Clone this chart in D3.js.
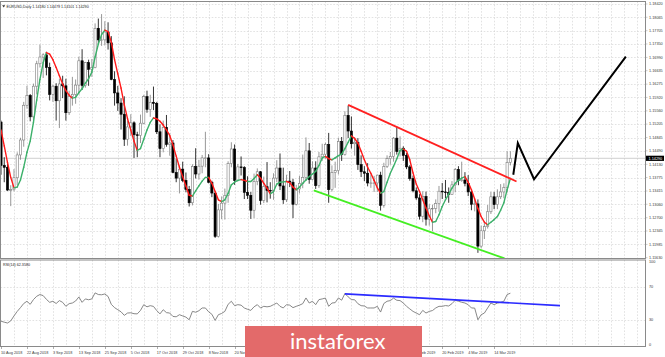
<!DOCTYPE html>
<html><head><meta charset="utf-8">
<script src="https://cdn.jsdelivr.net/npm/d3@7/dist/d3.min.js"></script>
<style>body{margin:0;background:#fff}svg{display:block;font-family:"Liberation Sans",Arial,sans-serif}</style>
</head><body><svg id="c" width="665" height="357"></svg>
<script>
// ---------- DATA ----------
const symbol = "EURUSD,Daily";
// daily candles [open, high, low, close], 10 Aug 2018 .. 21 Mar 2019
const candles = [
[1.1526,1.1530,1.1385,1.1410],[1.1410,1.1432,1.1365,1.1405],[1.1405,1.1422,1.1342,1.1344],[1.1344,1.1357,1.1301,1.1345],[1.1345,1.1400,1.1341,1.1377],
[1.1377,1.1445,1.1357,1.1438],[1.1438,1.1484,1.1425,1.1478],[1.1478,1.1580,1.1460,1.1571],[1.1571,1.1623,1.1562,1.1597],[1.1597,1.1601,1.1528,1.1540],
[1.1540,1.1629,1.1530,1.1622],[1.1622,1.1690,1.1600,1.1682],[1.1682,1.1733,1.1672,1.1700],[1.1700,1.1710,1.1644,1.1706],[1.1706,1.1714,1.1651,1.1672],
[1.1672,1.1685,1.1584,1.1600],[1.1600,1.1625,1.1580,1.1622],[1.1622,1.1630,1.1530,1.1583],[1.1583,1.1642,1.1510,1.1628],[1.1628,1.1650,1.1590,1.1623],
[1.1623,1.1642,1.1530,1.1551],[1.1551,1.1610,1.1545,1.1595],[1.1595,1.1647,1.1570,1.1600],[1.1600,1.1640,1.1575,1.1625],[1.1625,1.1701,1.1600,1.1690],
[1.1690,1.1721,1.1612,1.1624],[1.1624,1.1687,1.1618,1.1685],[1.1685,1.1693,1.1623,1.1667],[1.1667,1.1695,1.1647,1.1672],[1.1672,1.1790,1.1670,1.1777],
[1.1777,1.1803,1.1735,1.1746],[1.1746,1.1815,1.1730,1.1746],[1.1746,1.1796,1.1731,1.1767],[1.1767,1.1793,1.1720,1.1738],[1.1738,1.1756,1.1638,1.1640],
[1.1640,1.1662,1.1570,1.1604],[1.1604,1.1623,1.1556,1.1577],[1.1577,1.1590,1.1506,1.1547],[1.1547,1.1595,1.1462,1.1480],[1.1480,1.1530,1.1463,1.1513],
[1.1513,1.1547,1.1489,1.1524],[1.1524,1.1528,1.1430,1.1492],[1.1492,1.1500,1.1432,1.1490],[1.1490,1.1546,1.1470,1.1523],[1.1523,1.1599,1.1520,1.1594],
[1.1594,1.1610,1.1551,1.1560],[1.1560,1.1599,1.1540,1.1579],[1.1579,1.1621,1.1558,1.1576],[1.1576,1.1580,1.1494,1.1500],[1.1500,1.1520,1.1432,1.1455],
[1.1455,1.1530,1.1445,1.1512],[1.1512,1.1545,1.1460,1.1466],[1.1466,1.1496,1.1436,1.1470],[1.1470,1.1478,1.1389,1.1391],[1.1391,1.1428,1.1365,1.1376],
[1.1376,1.1410,1.1335,1.1400],[1.1400,1.1420,1.1365,1.1370],[1.1370,1.1391,1.1338,1.1346],[1.1346,1.1355,1.1300,1.1310],[1.1310,1.1413,1.1303,1.1407],
[1.1407,1.1456,1.1375,1.1387],[1.1387,1.1425,1.1372,1.1408],[1.1408,1.1438,1.1389,1.1430],[1.1430,1.1500,1.1405,1.1430],[1.1430,1.1440,1.1362,1.1365],
[1.1365,1.1369,1.1325,1.1336],[1.1336,1.1337,1.1216,1.1220],[1.1220,1.1307,1.1217,1.1291],[1.1291,1.1327,1.1266,1.1309],[1.1309,1.1348,1.1265,1.1330],
[1.1330,1.1421,1.1310,1.1415],[1.1415,1.1472,1.1405,1.1454],[1.1454,1.1466,1.1358,1.1370],[1.1370,1.1414,1.1367,1.1406],[1.1406,1.1434,1.1383,1.1404],
[1.1404,1.1408,1.1320,1.1338],[1.1338,1.1381,1.1320,1.1330],[1.1330,1.1339,1.1267,1.1290],[1.1290,1.1388,1.1269,1.1367],[1.1367,1.1402,1.1357,1.1393],
[1.1393,1.1395,1.1305,1.1316],[1.1316,1.1380,1.1309,1.1353],[1.1353,1.1419,1.1311,1.1343],[1.1343,1.1365,1.1321,1.1342],[1.1342,1.1389,1.1318,1.1376],
[1.1376,1.1424,1.1365,1.1403],[1.1403,1.1442,1.1344,1.1355],[1.1355,1.1404,1.1307,1.1318],[1.1318,1.1385,1.1312,1.1368],[1.1368,1.1395,1.1352,1.1365],
[1.1365,1.1374,1.1269,1.1306],[1.1306,1.1358,1.1303,1.1347],[1.1347,1.1382,1.1335,1.1362],[1.1362,1.1439,1.1349,1.1378],[1.1378,1.1485,1.1369,1.1449],
[1.1449,1.1470,1.1361,1.1372],[1.1372,1.1421,1.1370,1.1403],[1.1403,1.1421,1.1347,1.1356],[1.1356,1.1446,1.1350,1.1433],[1.1433,1.1468,1.1422,1.1440],
[1.1440,1.1471,1.1428,1.1466],[1.1466,1.1497,1.1310,1.1345],[1.1345,1.1410,1.1340,1.1391],[1.1391,1.1420,1.1350,1.1396],[1.1396,1.1484,1.1386,1.1474],
[1.1474,1.1486,1.1422,1.1439],[1.1439,1.1555,1.1436,1.1544],[1.1544,1.1570,1.1483,1.1502],[1.1502,1.1541,1.1455,1.1468],[1.1468,1.1486,1.1436,1.1472],
[1.1472,1.1483,1.1398,1.1412],[1.1412,1.1437,1.1379,1.1393],[1.1393,1.1408,1.1368,1.1389],[1.1389,1.1416,1.1354,1.1363],[1.1363,1.1386,1.1350,1.1363],
[1.1363,1.1382,1.1339,1.1363],[1.1363,1.1385,1.1339,1.1384],[1.1384,1.1393,1.1289,1.1303],[1.1303,1.1417,1.1297,1.1407],[1.1407,1.1437,1.1403,1.1428],
[1.1428,1.1446,1.1412,1.1434],[1.1434,1.1486,1.1420,1.1483],[1.1483,1.1514,1.1439,1.1447],[1.1447,1.1488,1.1434,1.1456],[1.1456,1.1461,1.1422,1.1437],
[1.1437,1.1443,1.1400,1.1406],[1.1406,1.1411,1.1369,1.1375],[1.1375,1.1383,1.1338,1.1342],[1.1342,1.1351,1.1318,1.1323],[1.1323,1.1333,1.1265,1.1274],
[1.1274,1.1341,1.1258,1.1327],[1.1327,1.1340,1.1249,1.1266],[1.1266,1.1306,1.1249,1.1294],[1.1294,1.1305,1.1234,1.1295],[1.1295,1.1319,1.1282,1.1308],
[1.1308,1.1355,1.1286,1.1341],[1.1341,1.1363,1.1320,1.1339],[1.1339,1.1371,1.1322,1.1337],[1.1337,1.1351,1.1310,1.1332],[1.1332,1.1368,1.1331,1.1358],
[1.1358,1.1403,1.1338,1.1399],[1.1399,1.1408,1.1357,1.1370],[1.1370,1.1420,1.1366,1.1371],[1.1371,1.1392,1.1354,1.1362],[1.1362,1.1384,1.1328,1.1339],
[1.1339,1.1343,1.1290,1.1306],[1.1306,1.1319,1.1287,1.1307],[1.1307,1.1319,1.1176,1.1194],[1.1194,1.1249,1.1189,1.1235],[1.1235,1.1256,1.1213,1.1246],
[1.1246,1.1304,1.1241,1.1286],[1.1286,1.1339,1.1280,1.1326],[1.1326,1.1339,1.1293,1.1305],[1.1305,1.1346,1.1293,1.1326],[1.1326,1.1360,1.1320,1.1339],
[1.1339,1.1362,1.1322,1.1351],[1.1351,1.1448,1.1337,1.1418],[1.1418,1.14479,1.14101,1.1429]
];
// colour-changing moving average
const maValues = [
1.1505,1.1462,1.1418,1.1378,1.1350,1.1352,1.1371,1.1405,1.1445,1.1475,
1.1525,1.1585,1.1640,1.1685,1.1712,1.1708,1.1693,1.1672,1.1650,1.1628,
1.1610,1.1598,1.1590,1.1592,1.1605,1.1615,1.1630,1.1642,1.1660,1.1700,
1.1735,1.1760,1.1772,1.1768,1.1740,1.1693,1.1655,1.1617,1.1572,1.1535,
1.1505,1.1475,1.1450,1.1455,1.1480,1.1505,1.1525,1.1537,1.1535,1.1528,
1.1518,1.1505,1.1490,1.1465,1.1435,1.1405,1.1380,1.1355,1.1330,1.1328,
1.1342,1.1355,1.1368,1.1378,1.1378,1.1362,1.1340,1.1318,1.1313,1.1318,
1.1335,1.1358,1.1365,1.1370,1.1372,1.1370,1.1367,1.1367,1.1375,1.1385,
1.1376,1.1362,1.1349,1.1334,1.1340,1.1360,1.1365,1.1366,1.1367,1.1364,
1.1352,1.1345,1.1352,1.1362,1.1371,1.1380,1.1387,1.1394,1.1410,1.1430,
1.1434,1.1428,1.1425,1.1430,1.1436,1.1440,1.1455,1.1472,1.1489,1.1482,
1.1470,1.1448,1.1425,1.1405,1.1389,1.1370,1.1350,1.1336,1.1340,1.1365,
1.1389,1.1408,1.1428,1.1450,1.1454,1.1448,1.1425,1.1390,1.1360,1.1340,
1.1318,1.1296,1.1275,1.1258,1.1260,1.1278,1.1300,1.1318,1.1333,1.1349,
1.1362,1.1370,1.1376,1.1380,1.1365,1.1345,1.1320,1.1295,1.1273,1.1258,
1.1251,1.1258,1.1265,1.1273,1.1290,1.1310,1.1345,1.1375
];
// RSI(14)
const rsiValues = [
28.7,27.5,26.5,29,35,40.5,45,50,52.7,49,
54.7,58.7,60.8,59.5,55,51.4,52.7,50,53.5,51.4,
46.6,49.8,50.6,53,57.9,51.4,55.5,54.5,55.5,62.8,
60.8,60.5,61.5,58.5,49,45,42.5,40,35.7,38.5,
38.8,37.7,37.5,41.7,48.6,46,47.4,46.5,41.5,37.5,
42.5,39,38.5,34.4,34,36.5,35,33.6,30.4,40.5,
39.5,41.3,44.6,44.6,40,37,29.6,36.5,38,40.5,
49,52.7,47.4,48.6,48,44.6,43,41.7,46,48.6,
44.6,46.6,46,46.6,48.6,50.6,46.6,44.6,48.6,48,
45,46.6,48,49.8,56.7,50.6,52.7,48.6,54.7,55.5,
56.5,46.6,50.6,51,56.7,54,62,58,54.7,54.5,
49.8,47.4,47,44.6,44.6,44.6,46.6,39.7,50,52.7,
53.5,56.5,53.9,53.5,50.6,46.6,43.5,40.5,38.5,36.5,
41.7,38.5,40.5,41.5,44.6,46.6,46.6,47.5,47,49.8,
53.9,52.7,51.5,50.6,48.6,44.6,44.5,30.4,36.5,38.5,
44.6,50.6,48.6,50.5,51.4,52.7,60.8,62.4
];
const rsiLabel = "RSI(14) 62.3580";
// drawn lines: [bar index, value]
const channelTop = [[107,1.1572],[158.9,1.1367]];
const channelBottom = [[96.4,1.1343],[155.2,1.1161]];
const projection = [[157.9,1.1385],[159.3,1.1470],[164.3,1.1373],[192.6,1.1701]];
const rsiTrend = [[106,61.6],[172.3,47.4]];
// axis labels
const priceTicks = ["1.18420","1.18065","1.17705","1.17350","1.16990","1.16635","1.16275","1.15920","1.15560","1.15205","1.14845","1.14490","1.14130","1.13775","1.13415","1.13060","1.12700","1.12345","1.11985","1.11630"];
const rsiTicks = [100,70,30,0];
// date labels every 8 bars; null = hidden under the watermark in the reference
const dateTicks = ["10 Aug 2018","22 Aug 2018","3 Sep 2018","13 Sep 2018","25 Sep 2018","5 Oct 2018","17 Oct 2018","29 Oct 2018","8 Nov 2018","20 Nov 2018",null,null,null,null,null,null,"8 Feb 2019","20 Feb 2019","4 Mar 2019","14 Mar 2019"];
const barsPerDateTick = 8;
const watermark = "instaforex";

// ---------- LAYOUT ----------
const svg = d3.select("#c");
const L = 0.5, R = 645.5, mainTop = 1.5, mainBot = 258.5, rsiTop = 260, rsiBot = 346.5;
const x = d3.scaleLinear().domain([0, 198.5]).range([1, 645]);
const yP = d3.scaleLinear().domain([1.1163, 1.1842]).range([257.7, 4]);
const yR = d3.scaleLinear().domain([0, 100]).range([345, 262]);
const fmt = d3.format(".5f");
const axisFont = 3.8, axisCol = "#3a3a3a", gridCol = "#cfcfcf";

const defs = svg.append("defs");
defs.append("clipPath").attr("id","cm").append("rect").attr("x",L).attr("y",mainTop).attr("width",R-L).attr("height",mainBot-mainTop);
defs.append("clipPath").attr("id","cr").append("rect").attr("x",L).attr("y",rsiTop).attr("width",R-L).attr("height",rsiBot-rsiTop);

// grids
const gGrid = svg.append("g").attr("stroke",gridCol).attr("stroke-width",0.6).attr("stroke-dasharray","1.6,1.6");
const vIdx = d3.range(0, 199, 4);
vIdx.forEach(i => {
  const xx = Math.round(x(i)) + 0.5;
  if (xx <= L + 1 || xx >= R) return;
  gGrid.append("line").attr("x1",xx).attr("x2",xx).attr("y1",mainTop).attr("y2",mainBot);
  gGrid.append("line").attr("x1",xx).attr("x2",xx).attr("y1",rsiTop).attr("y2",rsiBot);
});
priceTicks.forEach(t => {
  const yy = Math.round(yP(+t)) + 0.5;
  if (yy <= mainTop + 1 || yy >= mainBot - 1) return;
  gGrid.append("line").attr("x1",L).attr("x2",R).attr("y1",yy).attr("y2",yy);
});
[70,30].forEach(v => {
  const yy = Math.round(yR(v)) + 0.5;
  gGrid.append("line").attr("x1",L).attr("x2",R).attr("y1",yy).attr("y2",yy);
});

// current price line
const last = candles[candles.length-1];
svg.append("line").attr("x1",L).attr("x2",R).attr("y1",yP(last[3])).attr("y2",yP(last[3]))
  .attr("stroke","#c4c4c4").attr("stroke-width",0.8);

// candles
const gC = svg.append("g").attr("clip-path","url(#cm)");
candles.forEach((c,i) => {
  const [o,h,l,cl] = c;
  const up = cl >= o;
  const col = up ? "#7d7d7d" : "#000";
  const cx = x(i);
  gC.append("line").attr("x1",cx).attr("x2",cx).attr("y1",yP(h)).attr("y2",yP(l)).attr("stroke",col).attr("stroke-width",0.8);
  const top = yP(Math.max(o,cl)), bot = yP(Math.min(o,cl));
  gC.append("rect").attr("x",cx-1.1).attr("width",2.2).attr("y",top).attr("height",Math.max(0.6,bot-top))
    .attr("fill", up ? "#fff" : "#000").attr("stroke",col).attr("stroke-width",0.6);
});

// moving average: green rising, red falling
const gMA = svg.append("g").attr("clip-path","url(#cm)").attr("fill","none").attr("stroke-width",1.4).attr("stroke-linecap","round");
for (let i = 0; i < maValues.length-1; i++) {
  const rising = maValues[i+1] >= maValues[i];
  gMA.append("line").attr("x1",x(i)).attr("y1",yP(maValues[i])).attr("x2",x(i+1)).attr("y2",yP(maValues[i+1]))
    .attr("stroke", rising ? "#3cb06a" : "#ff1a1a");
}

// trend lines
const lineP = d3.line().x(d=>x(d[0])).y(d=>yP(d[1]));
const gT = svg.append("g").attr("clip-path","url(#cm)").attr("fill","none").attr("stroke-linejoin","miter");
gT.append("path").attr("d",lineP(channelTop)).attr("stroke","#ff2020").attr("stroke-width",1.8);
gT.append("path").attr("d",lineP(channelBottom)).attr("stroke","#44ee22").attr("stroke-width",1.8);
gT.append("path").attr("d",lineP(projection)).attr("stroke","#000").attr("stroke-width",2);

// RSI
const lineR = d3.line().x((d,i)=>x(i)).y(d=>yR(d));
const gR = svg.append("g").attr("clip-path","url(#cr)").attr("fill","none");
gR.append("path").attr("d",lineR(rsiValues)).attr("stroke","#7a7a7a").attr("stroke-width",0.9);
gR.append("path").attr("d",d3.line().x(d=>x(d[0])).y(d=>yR(d[1]))(rsiTrend)).attr("stroke","#2b2bff").attr("stroke-width",1.6);

// panel borders
const gB = svg.append("g").attr("fill","none").attr("stroke","#8a8a8a").attr("stroke-width",1);
gB.append("rect").attr("x",L).attr("y",mainTop).attr("width",R-L).attr("height",mainBot-mainTop);
gB.append("rect").attr("x",L).attr("y",rsiTop).attr("width",R-L).attr("height",rsiBot-rsiTop);

// price axis labels
const gY = svg.append("g").attr("font-size",axisFont).attr("fill",axisCol);
priceTicks.forEach(t => {
  gY.append("text").attr("x",649).attr("y",yP(+t)).attr("dy","0.35em").text(t);
  gY.append("line").attr("x1",R).attr("x2",R+2).attr("y1",yP(+t)).attr("y2",yP(+t)).attr("stroke","#999").attr("stroke-width",0.5);
});
// current price box
const cy = yP(last[3]);
svg.append("rect").attr("x",646).attr("y",cy-2.6).attr("width",18).attr("height",5.2).attr("fill","#000");
svg.append("text").attr("x",648.5).attr("y",cy).attr("dy","0.35em").attr("font-size",axisFont).attr("fill","#fff").text(fmt(last[3]));
// rsi axis
rsiTicks.forEach(v => {
  gY.append("text").attr("x",649).attr("y",yR(v)).attr("dy","0.35em").text(v);
});
// date labels
const gX = svg.append("g").attr("font-size",axisFont).attr("fill",axisCol);
dateTicks.forEach((t,k) => {
  const xx = x(k*barsPerDateTick);
  gX.append("line").attr("x1",Math.round(xx)+0.5).attr("x2",Math.round(xx)+0.5).attr("y1",rsiBot).attr("y2",rsiBot+2.5).attr("stroke","#777").attr("stroke-width",0.6);
  if (t) gX.append("text").attr("x",xx).attr("y",353.5).text(t);
});

// header & indicator label
svg.append("path").attr("d","M2.2,5.2 L5.2,5.2 L3.7,7.4 Z").attr("fill","#333");
svg.append("text").attr("x",6.5).attr("y",8).attr("font-size",3.7).attr("fill","#222")
  .text(`${symbol}  ${last.map(fmt).join(" ")}`);
svg.append("text").attr("x",3).attr("y",266).attr("font-size",3.7).attr("fill","#222").text(rsiLabel);

// watermark
svg.append("rect").attr("x",245).attr("y",326).attr("width",177).attr("height",35).attr("fill","#e36a6a");
svg.append("text").attr("x",290).attr("y",348.5).attr("font-family","Lato,sans-serif").attr("font-size",22)
  .attr("fill","#fff").text(watermark);
</script>
</body></html>
